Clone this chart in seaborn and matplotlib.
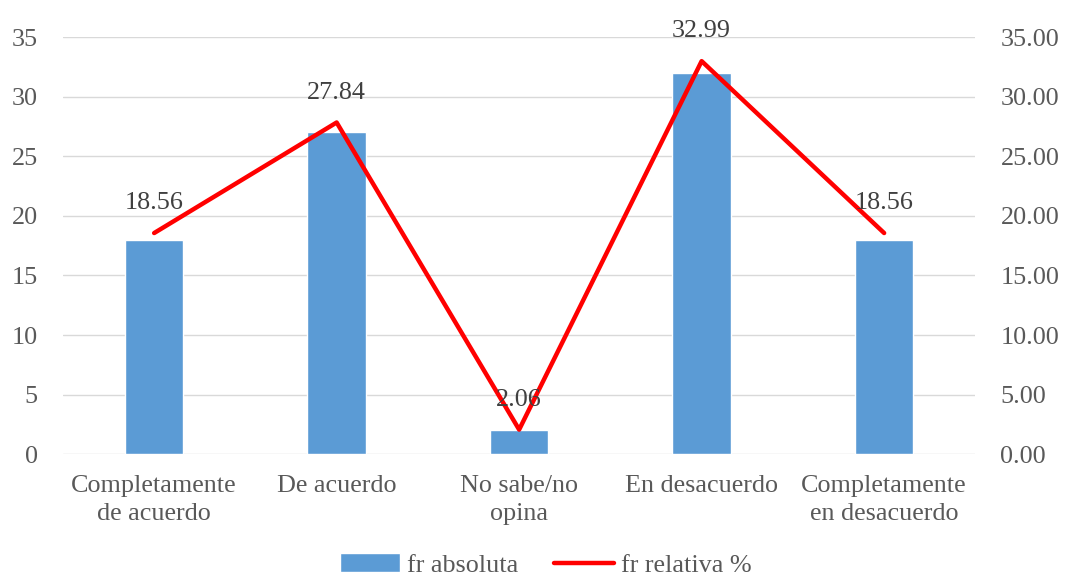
import matplotlib
matplotlib.use("Agg")
import matplotlib.pyplot as plt
import seaborn as sns
import pandas as pd
from matplotlib.ticker import FormatStrFormatter

categorias = ["Completamente\nde acuerdo", "De acuerdo", "No sabe/no\nopina",
              "En desacuerdo", "Completamente\nen desacuerdo"]
fr_absoluta = [18, 27, 2, 32, 18]
fr_relativa = [18.56, 27.84, 2.06, 32.99, 18.56]
ticks_izq = [0, 5, 10, 15, 20, 25, 30, 35]

df = pd.DataFrame({"categoria": categorias,
                   "absoluta": fr_absoluta,
                   "relativa": fr_relativa})

sns.set_theme(style="white")
plt.rcParams["font.family"] = ["Liberation Serif", "DejaVu Serif"]
plt.rcParams["text.color"] = "#595959"
FS = 18.8

fig = plt.figure(figsize=(10.66, 5.72), dpi=100)
ax = fig.add_axes([0.059, 0.206, 0.856, 0.729])

sns.barplot(data=df, x="categoria", y="absoluta", color="#5B9BD5",
            width=0.32, saturation=1, ax=ax, label="fr absoluta", legend=False)
ax.set_xlim(-0.5, 4.5)
ax.set_ylim(0, 35)
ax.set_yticks(ticks_izq)
ax.yaxis.grid(True, color="#d9d9d9", linewidth=1)
ax.set_axisbelow(True)
for s in ax.spines.values():
    s.set_visible(False)
ax.set_xlabel("")
ax.set_ylabel("")
ax.tick_params(axis="y", labelsize=FS, labelcolor="#595959", pad=18, length=0)
ax.tick_params(axis="x", labelsize=FS, labelcolor="#595959", pad=15, length=0)
for t in ax.get_xticklabels():
    t.set_linespacing(1.35)

ax2 = ax.twinx()
sns.lineplot(data=df, x="categoria", y="relativa", color="#FF0000",
             linewidth=3.2, sort=False, ax=ax2, label="fr relativa %", legend=False)
ax2.set_xlim(-0.5, 4.5)
ax2.set_ylim(0, 35)
ax2.set_yticks(ticks_izq)
ax2.yaxis.set_major_formatter(FormatStrFormatter("%.2f"))
for s in ax2.spines.values():
    s.set_visible(False)
ax2.set_ylabel("")
ax2.tick_params(axis="y", labelsize=FS, labelcolor="#595959", pad=18, length=0)

for i, v in enumerate(fr_relativa):
    ax2.annotate(f"{v:.2f}", xy=(i, v), xytext=(0, 21.5), textcoords="offset points",
                 ha="center", va="center", fontsize=FS, color="#404040")

h1, l1 = ax.get_legend_handles_labels()
h2, l2 = ax2.get_legend_handles_labels()
fig.legend(h1 + h2, l1 + l2, loc="center", bbox_to_anchor=(0.512, 0.012),
           ncol=2, frameon=False, fontsize=FS, handlelength=2.3,
           columnspacing=1.4, handletextpad=0.25)

fig.savefig("out.png", dpi=100)
